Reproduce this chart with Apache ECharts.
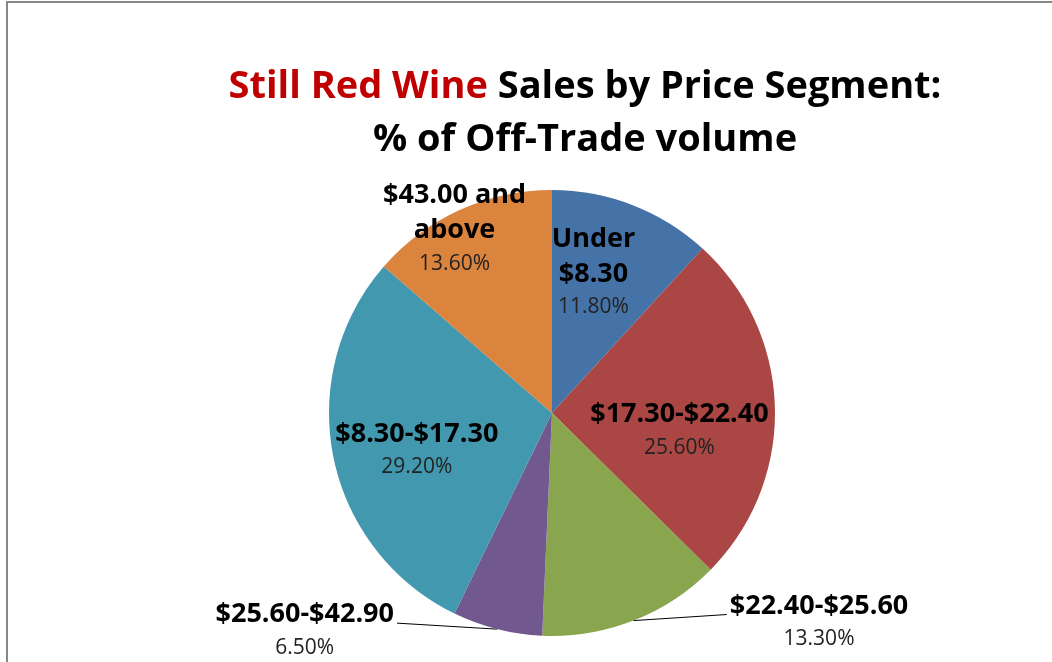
<!DOCTYPE html>
<html>
<head>
<meta charset="utf-8">
<script src="https://cdn.jsdelivr.net/npm/echarts@6/dist/echarts.min.js"></script>
<style>
  html, body { margin: 0; padding: 0; background: #ffffff; }
  #chart { width: 1052px; height: 662px; }
</style>
</head>
<body>
<div id="chart"></div>
<script>
// ---- data ----
const categories = ['Under $8.30', '$17.30-$22.40', '$22.40-$25.60', '$25.60-$42.90', '$8.30-$17.30', '$43.00 and above'];
const shares = [11.8, 25.6, 13.3, 6.5, 29.2, 13.6];
const titleHighlight = 'Still Red Wine';
const titleRest = 'Sales by Price Segment:';
const titleLine2 = '% of Off-Trade volume';

// ---- styling ----
const colors = ['#4572A7', '#AA4643', '#89A54E', '#71588F', '#4198AF', '#DB843D'];
const FONT = '"Open Sans", "Noto Sans", sans-serif';
// label placement tweaks (style, not data)
const insideOffsets = { 0: [0, -34], 1: [13, 20], 4: [-23, 14], 5: [-50, -80] };
const outsideLine = { 2: 93, 3: 100 };
const wrapNames = { 'Under $8.30': ['Under', '$8.30'], '$43.00 and above': ['$43.00 and', 'above'] };

const chart = echarts.init(document.getElementById('chart'), null, { renderer: 'canvas' });

const seriesData = categories.map((name, i) => {
  const item = { name: name, value: shares[i], itemStyle: { color: colors[i] } };
  if (outsideLine[i] !== undefined) {
    item.label = { position: 'outside', distanceToLabelLine: 3 };
    item.labelLine = { show: true, length: 1, length2: outsideLine[i] };
  } else {
    item.label = { position: 'inside' };
    item.labelLine = { show: false };
  }
  return item;
});

chart.setOption({
  animation: false,
  backgroundColor: '#ffffff',
  graphic: [{
    type: 'rect',
    shape: { x: 7, y: 2, width: 1100, height: 720 },
    style: { fill: 'none', stroke: '#878787', lineWidth: 2 },
    silent: true
  }],
  title: {
    left: 585,
    top: 61,
    padding: 0,
    textAlign: 'center',
    text: '{r|' + titleHighlight + '} {b|' + titleRest + '}\n{b|' + titleLine2 + '}',
    textStyle: {
      fontFamily: FONT,
      fontWeight: 'bold',
      fontSize: 38,
      lineHeight: 53,
      color: '#000',
      rich: {
        r: { color: '#C00000', fontFamily: FONT, fontWeight: 'bold', fontSize: 38, lineHeight: 53 },
        b: { color: '#000000', fontFamily: FONT, fontWeight: 'bold', fontSize: 38, lineHeight: 53 }
      }
    }
  },
  series: [{
    type: 'pie',
    center: [552, 413],
    radius: 223,
    startAngle: 90,
    clockwise: true,
    avoidLabelOverlap: false,
    data: seriesData,
    emphasis: { disabled: true },
    label: {
      show: true,
      fontFamily: FONT,
      color: '#000',
      formatter: function (p) {
        const lines = wrapNames[p.name] || [p.name];
        return lines.map(l => '{n|' + l + '}').join('\n') + '\n{p|' + p.value.toFixed(2) + '%}';
      },
      rich: {
        n: { fontFamily: FONT, fontWeight: 'bold', fontSize: 27, lineHeight: 35, color: '#000', align: 'center' },
        p: { fontFamily: FONT, fontWeight: 'normal', fontSize: 21, lineHeight: 31, color: '#222', align: 'center' }
      }
    },
    labelLine: {
      lineStyle: { color: '#000', width: 1 },
      smooth: false
    },
    labelLayout: function (params) {
      const i = params.dataIndex;
      const o = insideOffsets[i];
      if (o) return { dx: o[0], dy: o[1] };
      const pts = params.labelLinePoints;
      const r = params.labelRect;
      if (pts && pts.length && r) {
        const onLeft = (r.x + r.width / 2) < pts[0][0];
        const ex = onLeft ? r.x + r.width + 3 : r.x - 3;
        const ey = r.y + 22;
        return { labelLinePoints: [[pts[0][0], pts[0][1]], [ex, ey]] };
      }
      return {};
    }
  }]
});
</script>
</body>
</html>
